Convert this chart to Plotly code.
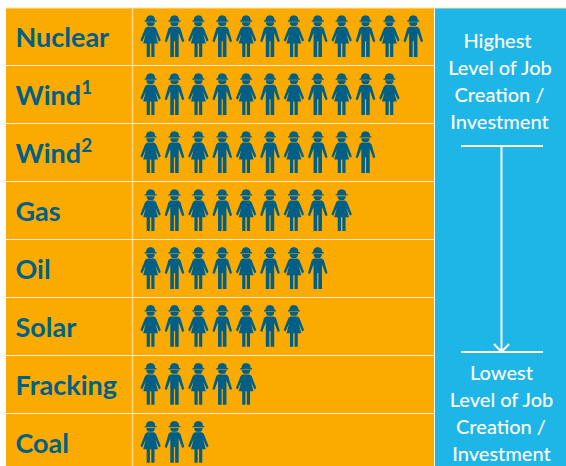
import plotly.graph_objects as go

categories = ["Nuclear", "Wind<sup>1</sup>", "Wind<sup>2</sup>", "Gas", "Oil", "Solar", "Fracking", "Coal"]
icon_counts = [12, 11, 10, 9, 8, 7, 5, 3]
top_lines = ["Highest", "Level of Job", "Creation /", "Investment"]
bottom_lines = ["Lowest", "Level of Job", "Creation /", "Investment"]

W, H = 566, 466
PITCH_X, PITCH_Y = 23.88, 57.95
X0, Y0 = 150.6, 36.2
ORANGE, BLUE, DARK = "#fbab00", "#1eb6e6", "#005f87"
FONT = "Lato"


def ux(px):
    return (px - X0) / PITCH_X


def uy(py):
    return (py - Y0) / PITCH_Y


def arc_hat():
    return [(-4.6, 5), (-4.2, 2.6), (-2.8, 0.8), (0, 0), (2.8, 0.8), (4.2, 2.6), (4.6, 5),
            (6, 5.2), (6, 6.4), (-6, 6.4), (-6, 5.2)]


FACE = [(-4.2, 7), (4.2, 7), (3.8, 9.2), (2.2, 10.8), (-2.2, 10.8), (-3.8, 9.2)]
WOMAN = [
    arc_hat(), FACE,
    [(-3.5, 11.4), (3.5, 11.4), (5.5, 13), (10.2, 25), (8.4, 26.5), (4.8, 18.5), (7.4, 28.2), (3.9, 28.2),
     (3.9, 41.8), (0.7, 41.8), (0.7, 28.2), (-0.7, 28.2), (-0.7, 41.8), (-3.9, 41.8), (-3.9, 28.2),
     (-7.4, 28.2), (-4.8, 18.5), (-8.4, 26.5), (-10.2, 25), (-5.5, 13)],
]
MAN = [
    arc_hat(), FACE,
    [(-4, 11.4), (4, 11.4), (6, 13), (9.8, 26), (7.8, 27), (4.2, 17.5), (4.2, 41.8), (0.6, 41.8), (0.6, 26),
     (-0.6, 26), (-0.6, 41.8), (-4.2, 41.8), (-4.2, 17.5), (-7.8, 27), (-9.8, 26), (-6, 13)],
]
ICON_H = 41.8


def icon_trace(parity):
    xs, ys = [], []
    template = WOMAN if parity == 0 else MAN
    for r, n in enumerate(icon_counts):
        for i in range(n):
            if i % 2 != parity:
                continue
            for part in template:
                for dx, dy in part + part[:1]:
                    xs.append(i + dx / PITCH_X)
                    ys.append(r + (dy - ICON_H / 2) / PITCH_Y)
                xs.append(None)
                ys.append(None)
    return go.Scatter(x=xs, y=ys, mode="lines", fill="toself", fillcolor=DARK,
                      line=dict(width=0, color=DARK), hoverinfo="skip", showlegend=False)


fig = go.Figure([icon_trace(0), icon_trace(1)])

fig.add_trace(go.Scatter(
    x=[ux(15.5)] * len(categories), y=[r + uy(40.2) for r in range(len(categories))], text=categories,
    mode="text", textposition="middle right", showlegend=False, hoverinfo="skip",
    textfont=dict(family=FONT, size=27, color=DARK, weight=700)))

right_x = [497.5, 500, 499.5, 499.5]
top_y = [43, 70, 97, 124]
bot_x = [501.5, 501.5, 501, 501.5]
bot_y = [375, 402, 429, 456]
fig.add_trace(go.Scatter(
    x=[ux(v) for v in right_x + bot_x], y=[uy(v) for v in top_y + bot_y],
    text=top_lines + bottom_lines, mode="text", textposition="middle center",
    showlegend=False, hoverinfo="skip",
    textfont=dict(family=FONT, size=20, color="white", weight=500)))

shapes = []


def rect(x0, y0, x1, y1, color, layer="below"):
    shapes.append(dict(type="rect", xref="x", yref="y", x0=ux(x0), x1=ux(x1), y0=uy(y0), y1=uy(y1),
                       fillcolor=color, line_width=0, layer=layer))


def seg(x0, y0, x1, y1, color="white", width=2):
    shapes.append(dict(type="line", xref="x", yref="y", x0=ux(x0), x1=ux(x1), y0=uy(y0), y1=uy(y1),
                       line=dict(color=color, width=width), layer="below"))


rect(6, 8, 434, 466, ORANGE)
rect(435, 8, 566, 466, BLUE)
seg(6, 8, 566, 8, "#fde2a6", 1.2)
seg(132.5, 8, 132.5, 466, "#fdd480", 1.6)
for b in [65.5, 123.5, 181.5, 239.5, 297.5, 355.5, 413.5]:
    seg(6, b, 434, b, "#fff1d2", 1.2)
seg(461, 146, 543, 146)
seg(501.5, 146, 501.5, 351)
seg(461, 352, 543, 352)
seg(494, 344, 501.5, 352)
seg(509, 344, 501.5, 352)

fig.update_layout(
    width=W, height=H, margin=dict(l=0, r=0, t=0, b=0), autosize=False,
    paper_bgcolor="white", plot_bgcolor="white", shapes=shapes,
    xaxis=dict(range=[ux(0), ux(W)], visible=False, fixedrange=True),
    yaxis=dict(range=[uy(H), uy(0)], visible=False, fixedrange=True),
)
fig.write_html("out.html", config=dict(displayModeBar=False),
               post_script="document.body.style.margin='0';document.body.style.overflow='hidden';")
